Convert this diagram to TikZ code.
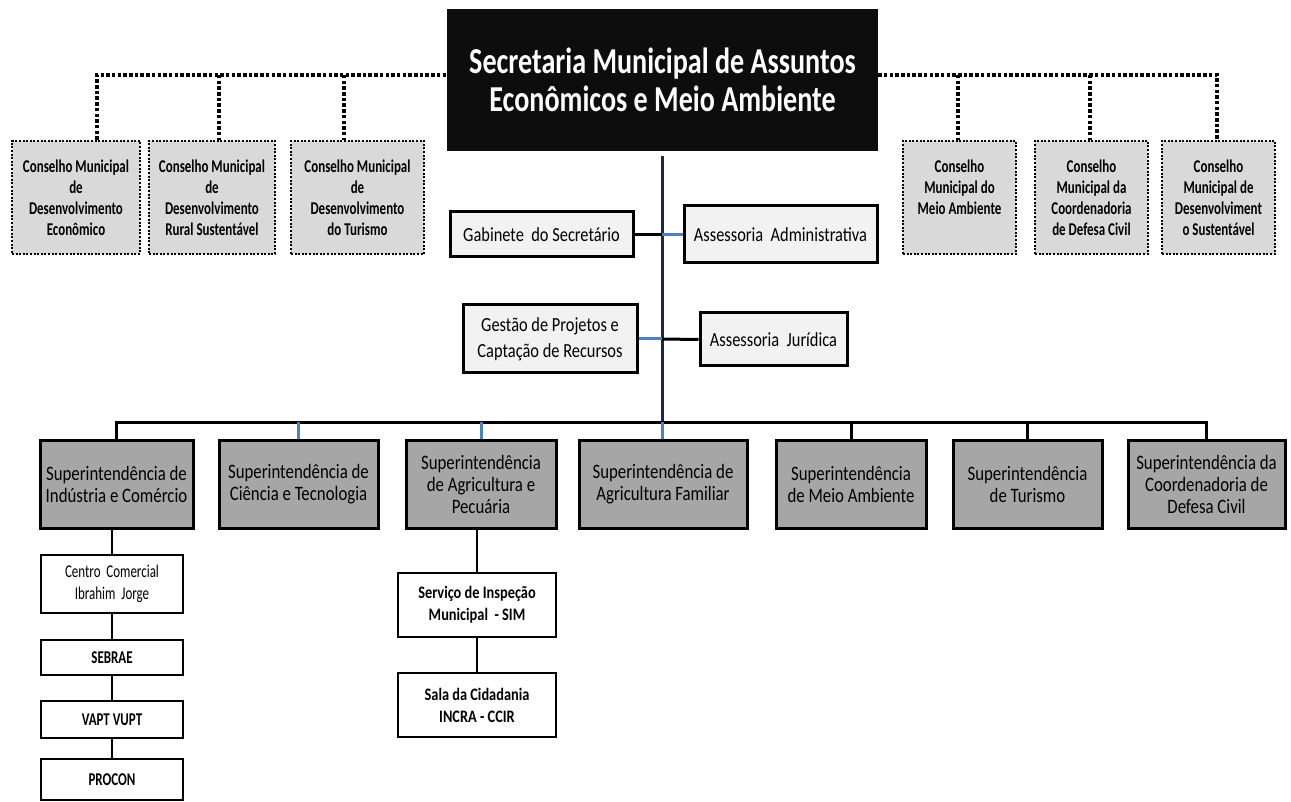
\documentclass[tikz,border=0pt]{standalone}
\usepackage{fontspec}
\setmainfont{Carlito}[FakeStretch=0.82]
\newfontfamily\condfont{Carlito}[FakeStretch=0.72]
\newfontfamily\titlefont{Carlito}[FakeStretch=0.77]
\usetikzlibrary{positioning}

\definecolor{conselhogray}{HTML}{D9D9D9}
\definecolor{supergray}{HTML}{A6A6A6}
\definecolor{boxgray}{HTML}{F2F2F2}
\definecolor{linkblue}{HTML}{4F81BD}
\definecolor{trunknavy}{HTML}{1B2A44}

\begin{document}
\begin{tikzpicture}[x=1pt, y=-1pt,
	topbox/.style={fill=black!95, text=white, minimum width=431pt, minimum height=142pt, align=center, inner sep=0pt, font=\titlefont\bfseries\fontsize{36.5}{38}\selectfont},
	conselho/.style={draw, fill=conselhogray, line width=2.2pt, dash pattern=on 2pt off 1.6pt, minimum height=113pt, align=center, inner sep=0pt, font=\condfont\bfseries\fontsize{18}{21}\selectfont},
	assessoria/.style={draw, fill=boxgray, line width=3pt, align=center, inner sep=0pt, font=\fontsize{20}{26.5}\selectfont},
	superint/.style={draw, fill=supergray, line width=3pt, minimum height=88pt, align=center, inner sep=0pt, font=\fontsize{20.5}{22}\selectfont},
	subbox/.style={draw, fill=white, line width=1.5pt, minimum width=142pt, align=center, inner sep=0pt, font=\condfont\fontsize{18}{22.5}\selectfont},
	subbold/.style={subbox, font=\condfont\bfseries\fontsize{18}{22}\selectfont},
	inspbox/.style={subbox, minimum width=158pt, minimum height=64pt, font=\bfseries\fontsize{17.5}{22}\selectfont},
	dotline/.style={line width=3.5pt, dash pattern=on 3.5pt off 2.2pt},
	conn/.style={line width=3pt},
	blueconn/.style={line width=3pt, linkblue},
	thinconn/.style={line width=2pt}]
	\useasboundingbox (0,0) rectangle (1291,802);

	% Conselhos (pontilhado)
	\coordinate (d1) at (97,75);
	\coordinate (d2) at (219,75);
	\coordinate (d3) at (344,75);
	\coordinate (d4) at (958,75);
	\coordinate (d5) at (1090,75);
	\coordinate (d6) at (1217,75);

	\node[conselho, minimum width=128pt] (cm1) at (76,197.5) {Conselho Municipal\\de\\Desenvolvimento\\Econômico};
	\node[conselho, minimum width=126pt] (cm2) at (212,197.5) {Conselho Municipal\\de\\Desenvolvimento\\Rural Sustentável};
	\node[conselho, minimum width=133pt] (cm3) at (357.5,197.5) {Conselho Municipal\\de\\Desenvolvimento\\do Turismo};
	\node[conselho, minimum width=113pt] (cm4) at (959.5,197.5) {Conselho\\Municipal do\\Meio Ambiente\\\mbox{}};
	\node[conselho, minimum width=113pt] (cm5) at (1091.5,197.5) {Conselho\\Municipal da\\Coordenadoria\\de Defesa Civil};
	\node[conselho, minimum width=113pt] (cm6) at (1218.5,197.5) {Conselho\\Municipal de\\Desenvolviment\\o Sustentável};

	% Secretaria
	\node[topbox] (sec) at (662.5,80) {Secretaria Municipal de Assuntos\\Econômicos e Meio Ambiente};

	\draw[dotline] (cm1.north -| d1) -- (d1) -- (d1 -| sec.west);
	\draw[dotline] (sec.east |- d6) -- (d6) -- (cm6.north -| d6);
	\draw[dotline] (d2) -- (cm2.north -| d2);
	\draw[dotline] (d3) -- (cm3.north -| d3);
	\draw[dotline] (d4) -- (cm4.north -| d4);
	\draw[dotline] (d5) -- (cm5.north -| d5);

	% Assessorias
	\node[assessoria, minimum width=183pt, minimum height=45pt] (gab) at (541.5,234.5) {Gabinete\ \ do Secretário};
	\node[assessoria, minimum width=193pt, minimum height=57pt] (adm) at (780.5,234.5) {Assessoria\ \ Administrativa};
	\node[assessoria, minimum width=174pt, minimum height=68pt] (proj) at (550,339) {Gestão de Projetos e\\Captação de Recursos};
	\node[assessoria, minimum width=147pt, minimum height=53pt] (jur) at (773.5,339.5) {Assessoria\ \ Jurídica};

	% Superintendencias
	\coordinate (bus) at (662,422);
	\node[superint, minimum width=153pt] (s1) at (116.5,484) {Superintendência de\\Indústria e Comércio};
	\node[superint, minimum width=159pt] (s2) at (298.5,484) {Superintendência de\\Ciência e Tecnologia};
	\node[superint, minimum width=150pt] (s3) at (481,484) {Superintendência\\de Agricultura e\\Pecuária};
	\node[superint, minimum width=168pt] (s4) at (663,484) {Superintendência de\\Agricultura Familiar};
	\node[superint, minimum width=150pt] (s5) at (851,484) {Superintendência\\de Meio Ambiente};
	\node[superint, minimum width=149pt] (s6) at (1027.5,484) {Superintendência\\de Turismo};
	\node[superint, minimum width=157pt] (s7) at (1206.5,484) {Superintendência da\\Coordenadoria de\\Defesa Civil};

	% Linhas
	\draw[line width=3pt, trunknavy, shorten <=5pt] (sec.south -| bus) -- (bus);
	\draw[conn] (gab.east) -- (gab.east -| bus);
	\draw[blueconn] (gab.east -| bus) -- (adm.west);
	\draw[blueconn] (proj.east) -- (proj.east -| bus);
	\draw[conn] (proj.east -| bus) -- (jur.west);
	\draw[conn] (s1.north) -- (s1.north |- bus) -- (s7.north |- bus) -- (s7.north);
	\draw[blueconn] (s2.north) -- (s2.north |- bus);
	\draw[blueconn] (s3.north) -- (s3.north |- bus);
	\draw[blueconn] (s4.north -| bus) -- (bus);
	\draw[conn] (s5.north) -- (s5.north |- bus);
	\draw[conn] (s6.north) -- (s6.north |- bus);

	% Subordinados
	\node[subbox, minimum height=58pt] (ccom) at (112,584) {Centro\ \ Comercial\\Ibrahim\ \ Jorge};
	\node[subbold, minimum height=35pt] (sebrae) at (112,657.5) {SEBRAE};
	\node[subbold, minimum height=37pt] (vapt) at (112,719.5) {VAPT VUPT};
	\node[subbold, minimum height=41pt] (procon) at (112,779.5) {PROCON};
	\node[inspbox] (sim) at (477,605) {Serviço de Inspeção\\Municipal\ \ - SIM};
	\node[inspbox] (sala) at (477,705) {Sala da Cidadania\\INCRA - CCIR};

	\draw[thinconn] (ccom.north) -- (ccom.north |- s1.south);
	\draw[thinconn] (ccom) -- (sebrae);
	\draw[thinconn] (sebrae) -- (vapt);
	\draw[thinconn] (vapt) -- (procon);
	\draw[thinconn] (sim.north) -- (sim.north |- s3.south);
	\draw[thinconn] (sim) -- (sala);
\end{tikzpicture}
\end{document}
